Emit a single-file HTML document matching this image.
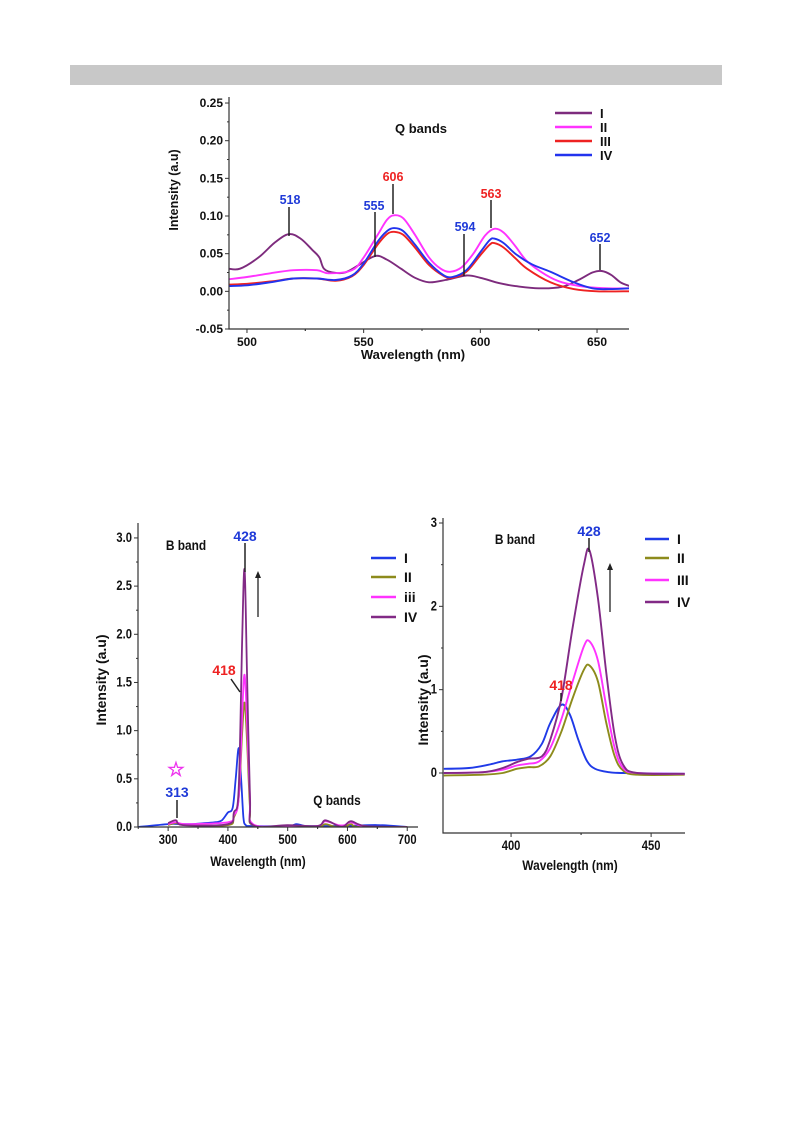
<!DOCTYPE html>
<html><head><meta charset="utf-8">
<style>
html,body{margin:0;padding:0;background:#fff;}
body{width:793px;height:1123px;position:relative;overflow:hidden;font-family:"Liberation Sans",Arial,sans-serif;}
#bar{position:absolute;left:70px;top:65px;width:652px;height:20px;background:#c8c8c8;}
svg{position:absolute;left:0;top:0;}
text{font-family:"Liberation Sans",Arial,sans-serif;font-weight:bold;}
</style></head>
<body>
<div id="bar"></div>
<svg id="svg" width="793" height="1123"></svg>
<script>
// ---- Chart 1: Q bands ----
const qWl = {
 I:  [492,497,505,512,518,523,528,531,533,537,542,548,555,560,566,572,578,585,594,600,608,615,625,635,642,648,652,656,660,664],
 II: [492,500,510,520,530,535,545,550,556,560,563,567,572,578,583,587,592,597,602,606,610,615,620,628,635,645,655,664],
 III:[492,500,510,520,530,538,545,550,556,560,563,567,572,578,584,588,594,600,604,606,610,615,620,630,640,650,664],
 IV: [492,500,510,520,530,538,545,550,556,560,563,567,572,578,584,588,594,600,604,606,610,615,622,630,640,648,655,664]
};
const qVal = {
 I:  [0.03,0.03,0.045,0.065,0.076,0.07,0.055,0.045,0.03,0.025,0.025,0.035,0.047,0.042,0.03,0.018,0.012,0.015,0.021,0.018,0.011,0.007,0.004,0.006,0.015,0.025,0.027,0.022,0.012,0.007],
 II: [0.016,0.019,0.024,0.028,0.028,0.024,0.028,0.045,0.075,0.095,0.101,0.097,0.075,0.045,0.03,0.026,0.032,0.05,0.074,0.083,0.078,0.06,0.04,0.022,0.012,0.006,0.004,0.004],
 III:[0.009,0.01,0.013,0.017,0.017,0.014,0.02,0.035,0.062,0.076,0.079,0.075,0.058,0.035,0.021,0.018,0.026,0.048,0.062,0.064,0.058,0.044,0.03,0.012,0.003,0.0,0.0],
 IV: [0.007,0.008,0.012,0.017,0.017,0.015,0.021,0.037,0.066,0.08,0.084,0.08,0.062,0.038,0.022,0.019,0.028,0.052,0.068,0.07,0.064,0.05,0.036,0.026,0.012,0.004,0.003,0.004]
};
const qYTicks = [-0.05,0,0.05,0.10,0.15,0.20,0.25];
const qYLabels = ["-0.05","0.00","0.05","0.10","0.15","0.20","0.25"];
const qXTicks = [500,550,600,650];
// ---- Chart 2: full spectrum ----
const fWl = {
 I:  [250,300,320,340,360,380,390,400,408,413,418,422,426,430,440,500,515,530,560,600,650,700],
 II: [300,313,330,400,410,418,424,428,432,437,442,500,550,563,580,595,606,620,700],
 III:[300,313,330,400,410,418,424,428,432,437,442,500,550,563,585,595,606,630,700],
 IV: [300,313,325,400,410,418,424,428,432,437,442,500,550,563,585,595,606,630,700]
};
const fVal = {
 I:  [0.0,0.03,0.03,0.03,0.04,0.05,0.07,0.15,0.2,0.5,0.82,0.5,0.1,0.02,0.01,0.01,0.03,0.01,0.01,0.01,0.02,0.0],
 II: [0.02,0.04,0.02,0.02,0.1,0.3,1.0,1.29,0.9,0.2,0.02,0.0,0.0,0.03,0.0,0.0,0.03,0.0,0.0],
 III:[0.03,0.05,0.03,0.05,0.12,0.3,1.2,1.58,1.1,0.3,0.03,0.01,0.01,0.06,0.02,0.02,0.05,0.005,0.0],
 IV: [0.04,0.07,0.02,0.03,0.15,0.4,2.0,2.67,1.6,0.3,0.02,0.02,0.01,0.07,0.01,0.01,0.06,0.01,0.0]
};
const fYTicks = [0,0.5,1.0,1.5,2.0,2.5,3.0];
const fYLabels = ["0.0","0.5","1.0","1.5","2.0","2.5","3.0"];
const fXTicks = [300,400,500,600,700];
// ---- Chart 3: B band zoom ----
const bWl = {
 I:  [376,385,392,397,402,407,411,414,418,421,424,427,430,435,440,462],
 II: [376,390,397,402,406,410,414,418,422,426,428,431,434,437,440,445,462],
 III:[376,390,397,402,406,410,414,418,422,426,428,431,434,437,440,445,462],
 IV: [376,390,397,402,406,411,414,418,422,426,428,431,434,437,440,445,462]
};
const bVal = {
 I:  [0.05,0.06,0.1,0.14,0.16,0.2,0.35,0.6,0.82,0.7,0.4,0.15,0.05,0.01,0.0,-0.01],
 II: [-0.03,-0.02,0.0,0.05,0.07,0.08,0.2,0.5,0.9,1.24,1.29,1.1,0.6,0.2,0.03,-0.02,-0.02],
 III:[0.0,0.01,0.04,0.09,0.11,0.14,0.3,0.65,1.1,1.52,1.58,1.35,0.8,0.3,0.06,0.0,-0.01],
 IV: [0.0,0.01,0.06,0.13,0.17,0.2,0.4,0.9,1.75,2.5,2.67,2.1,1.2,0.45,0.1,0.0,-0.01]
};
const bYTicks = [0,1,2,3];
const bXTicks = [400,450];

const NS="http://www.w3.org/2000/svg";
const svg=document.getElementById('svg');
function mk(tag,attrs,parent){const e=document.createElementNS(NS,tag);for(const k in attrs)e.setAttribute(k,attrs[k]);(parent||svg).appendChild(e);return e;}
function txt(x,y,s,size,fill,anchor,parent,extra){const t=mk('text',Object.assign({x:x,y:y,'font-size':size,fill:fill||'#111','text-anchor':anchor||'middle'},extra||{}),parent);t.textContent=s;return t;}
function smooth(pts){let d='M'+pts[0][0].toFixed(1)+','+pts[0][1].toFixed(1);for(let i=0;i<pts.length-1;i++){const p0=pts[i-1]||pts[i],p1=pts[i],p2=pts[i+1],p3=pts[i+2]||p2;const c1x=p1[0]+(p2[0]-p0[0])/6,c1y=p1[1]+(p2[1]-p0[1])/6,c2x=p2[0]-(p3[0]-p1[0])/6,c2y=p2[1]-(p3[1]-p1[1])/6;d+=' C'+c1x.toFixed(1)+','+c1y.toFixed(1)+' '+c2x.toFixed(1)+','+c2y.toFixed(1)+' '+p2[0].toFixed(1)+','+p2[1].toFixed(1);}return d;}

function chart(cfg){
  const g=mk('g',{});
  
  
  const X=v=>cfg.x0+(v-cfg.xmin)/(cfg.xmax-cfg.xmin)*(cfg.x1-cfg.x0);
  const Y=v=>cfg.y0-(v-cfg.ymin)/(cfg.ymax-cfg.ymin)*(cfg.y0-cfg.y1);
  const clip='clip-'+cfg.name;
  const cp=mk('clipPath',{id:clip},g);mk('rect',{x:cfg.x0,y:cfg.y1-30,width:cfg.x1-cfg.x0,height:cfg.y0-cfg.y1+30},cp);
  for(const s of cfg.series){
    const pts=cfg.wl[s.key].map((w,i)=>[X(w),Y(cfg.val[s.key][i])]);
    const p=mk('path',{d:smooth(pts),fill:'none',stroke:s.color,'stroke-width':cfg.sw||1.6,'clip-path':'url(#'+clip+')'},g);
    
    
  }
  const ax=mk('path',{d:'M'+cfg.x0+','+(cfg.y1)+' V'+cfg.y0+' H'+cfg.x1,fill:'none',stroke:'#333','stroke-width':1.2},g);
  
  
  cfg.yTicks.forEach((v,i)=>{const y=Y(v);mk('line',{x1:cfg.x0-4,x2:cfg.x0,y1:y,y2:y,stroke:'#333'},g);
    const t=txt(cfg.x0-6,y+4,cfg.yLabels[i],cfg.fs,'#111','end',g,cfg.cond?{transform:'translate('+(cfg.x0-6)+' 0) scale(0.8 1) translate('+(-(cfg.x0-6))+' 0)'}:{});
    
    if(i<cfg.yTicks.length-1){const ym=Y((v+cfg.yTicks[i+1])/2);mk('line',{x1:cfg.x0-2,x2:cfg.x0,y1:ym,y2:ym,stroke:'#333'},g);}});
  cfg.xTicks.forEach((v,i)=>{const x=X(v);mk('line',{x1:x,x2:x,y1:cfg.y0,y2:cfg.y0+4,stroke:'#333'},g);
    const t=txt(x,cfg.y0+17,String(v),cfg.fs,'#111','middle',g,cfg.cond?{transform:'translate('+x+' 0) scale(0.8 1) translate('+(-x)+' 0)'}:{});
    
    const step=cfg.xTicks[1]-cfg.xTicks[0];[v-step/2,v+step/2].forEach(m=>{if(m>cfg.xmin&&m<cfg.xmax){const xm=X(m);mk('line',{x1:xm,x2:xm,y1:cfg.y0,y2:cfg.y0+2,stroke:'#333'},g);}});});
  return {X,Y,g};
}
function axisTitles(xt,yt){
  let t=txt(xt[0],xt[1],'Wavelength (nm)',xt[2],'#111','middle',svg,xt[3]?{transform:'translate('+xt[0]+' 0) scale(0.85 1) translate('+(-xt[0])+' 0)'}:{});
  
  t=txt(0,0,'Intensity (a.u)',yt[2],'#111','middle',svg,{transform:'translate('+yt[0]+' '+yt[1]+') rotate(-90)'});
  
}
function legend(x,ys,series,labels,len,fs){
  series.forEach((s,i)=>{const l=mk('line',{x1:x,x2:x+len,y1:ys[i],y2:ys[i],stroke:s.color,'stroke-width':2.5});
    
    const t=txt(x+len+8,ys[i]+5,labels[i],fs,'#111','start');
    });
}
function annot(x,y,s,color,lx1,ly1,lx2,ly2,fs){const t=txt(x,y,s,fs,color,'middle');
  const l=mk('line',{x1:lx1,y1:ly1,x2:lx2,y2:ly2,stroke:'#222','stroke-width':1.5});}

// chart 1
const s1=[{key:'I',color:'#7d2b7d'},{key:'II',color:'#ff33ff'},{key:'III',color:'#ee2222'},{key:'IV',color:'#2233ee'}];
chart({name:'q-bands-chart',x0:229,x1:629,y0:329,y1:97,xmin:492.3,xmax:663.7,ymin:-0.05,ymax:0.258,wl:qWl,val:qVal,series:s1,yTicks:qYTicks,yLabels:qYLabels,xTicks:qXTicks,fs:12,sw:1.9});
axisTitles([413,359,13],[178,190,12.5]);
legend(555,[113,127,141,155],s1,['I','II','III','IV'],37,13);
let t=txt(421,133,'Q bands',13);
annot(290,204,'518','#1f3ad8',289,207,289,236,12.5);
annot(374,210,'555','#1f3ad8',375,212,375,257,12.5);
annot(393,181,'606','#ee2222',393,184,393,214,12.5);
annot(491,198,'563','#ee2222',491,200,491,228,12.5);
annot(465,231,'594','#1f3ad8',464,234,464,276,12.5);
annot(600,242,'652','#1f3ad8',600,244,600,270,12.5);

// chart 2
const s2=[{key:'I',color:'#1f3ae8'},{key:'II',color:'#8d8b1c'},{key:'III',color:'#ff33ff'},{key:'IV',color:'#822a86'}];
chart({name:'full-spectrum-chart',x0:138,x1:418,y0:827,y1:523,xmin:249.6,xmax:718,ymin:0,ymax:3.155,wl:fWl,val:fVal,series:s2,yTicks:fYTicks,yLabels:fYLabels,xTicks:fXTicks,fs:14,cond:true,sw:1.8});
axisTitles([258,866,14,true],[106,680,14]);
legend(371,[558,577,597,617],s2,['I','II','iii','IV'],25,14);
t=txt(186,550,'B band',14,'#111','middle',svg,{transform:'translate(186 0) scale(0.85 1) translate(-186 0)'});
t=txt(337,805,'Q bands',14,'#111','middle',svg,{transform:'translate(337 0) scale(0.85 1) translate(-337 0)'});
annot(245,541,'428','#1f3ad8',245,543,245,572,14);
annot(224,675,'418','#ee2222',231,679,240,692,14);
annot(177,797,'313','#1f3ad8',177,800,177,818,14);
t=txt(176,776,'☆',20,'#ee33ee','middle',svg,{'font-family':'DejaVu Sans','font-weight':'normal'});
let a=mk('line',{x1:258,y1:617,x2:258,y2:576,stroke:'#222','stroke-width':1.3});
mk('path',{d:'M255,578 L258,571 L261,578 Z',fill:'#222'});

// chart 3
chart({name:'b-band-chart',x0:443,x1:685,y0:833,y1:518,xmin:375.7,xmax:462.1,ymin:-0.72,ymax:3.06,wl:bWl,val:bVal,series:s2,yTicks:bYTicks,yLabels:['0','1','2','3'],xTicks:bXTicks,fs:14,cond:true,sw:1.9});
axisTitles([570,870,14,true],[428,700,14]);
legend(645,[539,558,580,602],s2,['I','II','III','IV'],24,14);
t=txt(515,544,'B band',14,'#111','middle',svg,{transform:'translate(515 0) scale(0.85 1) translate(-515 0)'});
annot(589,536,'428','#1f3ad8',589,538,589,552,14);
annot(561,690,'418','#ee2222',561,693,561,701,14);
a=mk('line',{x1:610,y1:612,x2:610,y2:568,stroke:'#222','stroke-width':1.3});
mk('path',{d:'M607,570 L610,563 L613,570 Z',fill:'#222'});
</script>
</body></html>
